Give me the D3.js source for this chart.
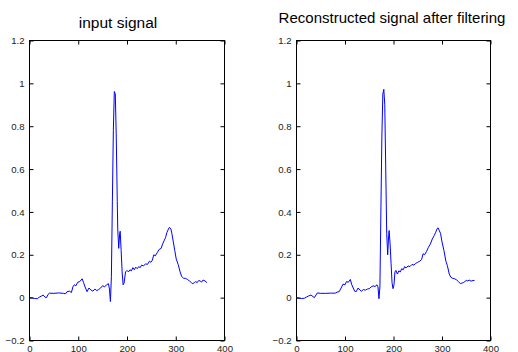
<!DOCTYPE html>
<html>
<head>
<meta charset="utf-8">
<script src="https://cdn.jsdelivr.net/npm/d3@7"></script>
<style>
    body { margin: 0; background: #fff; }
    svg { display: block; }
    .tick text { font-family: "Liberation Sans", Arial, sans-serif; font-size: 9.6px; fill: #222; }
    .title { font-family: "Liberation Sans", Arial, sans-serif; fill: #000; }
</style>
</head>
<body>
<svg id="chart" width="518" height="352"></svg>
<script>
// tick values shared by both panels
const xTicks = [0, 100, 200, 300, 400];
const yTicks = [-0.2, 0, 0.2, 0.4, 0.6, 0.8, 1, 1.2];

// [sample, amplitude]
const inputSignal = [
    [0, 0], [5, 0], [10, -0.004], [16, -0.005], [20, 0.002], [25, 0.008], [28, 0.012],
    [32, 0.002], [35, 0], [38, 0.015], [41, 0.021], [50, 0.02], [60, 0.022], [70, 0.02],
    [74, 0.018], [77, 0.028], [82, 0.03], [86, 0.024], [89, 0.05], [92, 0.06], [95, 0.055],
    [99, 0.072], [103, 0.075], [108, 0.088], [111, 0.07], [114, 0.05], [118, 0.028],
    [122, 0.045], [126, 0.036], [130, 0.03], [134, 0.04], [138, 0.033], [142, 0.038],
    [146, 0.045], [150, 0.056], [154, 0.05], [158, 0.06], [162, 0.065], [164, 0.04],
    [166, -0.018], [168, 0.1], [170, 0.45], [172, 0.78], [174, 0.962], [176, 0.95],
    [178, 0.75], [180, 0.45], [181, 0.32], [183, 0.23], [185, 0.3], [186, 0.31],
    [188, 0.22], [190, 0.12], [192, 0.06], [194, 0.068], [197, 0.12], [200, 0.127],
    [203, 0.12], [206, 0.13], [209, 0.125], [212, 0.14], [215, 0.13], [218, 0.142],
    [221, 0.135], [224, 0.145], [227, 0.14], [230, 0.152], [234, 0.148], [238, 0.158],
    [242, 0.155], [246, 0.17], [249, 0.165], [252, 0.175], [255, 0.2], [258, 0.195],
    [262, 0.21], [266, 0.225], [270, 0.23], [273, 0.25], [276, 0.265], [279, 0.28],
    [282, 0.305], [285, 0.32], [287, 0.328], [290, 0.32], [292, 0.3], [295, 0.26],
    [298, 0.22], [301, 0.18], [305, 0.155], [309, 0.12], [312, 0.1], [316, 0.09],
    [320, 0.09], [324, 0.085], [328, 0.078], [332, 0.07], [335, 0.065], [338, 0.07],
    [341, 0.075], [344, 0.07], [347, 0.08], [350, 0.078], [353, 0.072], [356, 0.082],
    [360, 0.078], [364, 0.07]
];

// [sample, amplitude]
const filteredSignal = [
    [0, 0], [5, -0.002], [10, -0.004], [16, -0.003], [20, 0.002], [25, 0.008], [30, 0.012],
    [34, 0.005], [37, 0], [40, 0.012], [43, 0.022], [50, 0.02], [60, 0.02], [70, 0.021],
    [80, 0.021], [84, 0.026], [88, 0.028], [92, 0.045], [96, 0.063], [100, 0.06],
    [103, 0.075], [107, 0.072], [111, 0.085], [114, 0.06], [117, 0.045], [120, 0.03],
    [123, 0.028], [127, 0.045], [131, 0.035], [134, 0.03], [138, 0.038], [142, 0.035],
    [146, 0.04], [150, 0.042], [154, 0.05], [158, 0.055], [162, 0.052], [166, 0.06],
    [168, 0.05], [170, -0.005], [172, 0.05], [174, 0.4], [176, 0.75], [178, 0.95],
    [180, 0.972], [182, 0.9], [184, 0.6], [186, 0.3], [188, 0.2], [190, 0.29],
    [191, 0.313], [193, 0.25], [195, 0.16], [197, 0.07], [199, 0.042], [201, 0.06],
    [203, 0.12], [205, 0.127], [208, 0.11], [211, 0.125], [214, 0.12], [217, 0.135],
    [220, 0.13], [223, 0.145], [226, 0.138], [230, 0.148], [234, 0.145], [238, 0.155],
    [242, 0.152], [246, 0.16], [250, 0.165], [254, 0.17], [258, 0.178], [261, 0.205],
    [264, 0.2], [268, 0.215], [272, 0.235], [276, 0.25], [280, 0.274], [284, 0.29],
    [287, 0.305], [290, 0.322], [292, 0.326], [294, 0.315], [297, 0.3], [300, 0.26],
    [304, 0.22], [308, 0.17], [311, 0.15], [315, 0.11], [318, 0.096], [322, 0.09],
    [326, 0.088], [330, 0.083], [334, 0.075], [338, 0.065], [341, 0.068], [344, 0.07],
    [347, 0.075], [350, 0.08], [353, 0.078], [356, 0.082], [360, 0.077], [364, 0.08],
    [367, 0.08]
];

const svg = d3.select('#chart');
svg.append('rect').attr('width', 518).attr('height', 352).attr('fill', '#fff');

const TOP = 40.5;
const BOTTOM = 340.5;

function drawPanel(data, left, right, title, titleX, titleY, titleSize) {
    const xScale = d3.scaleLinear().domain([0, 400]).range([left, right]);
    const yScale = d3.scaleLinear().domain([-0.2, 1.2]).range([BOTTOM, TOP]);
    const g = svg.append('g');

    // ticks point into the box, like matlab
    g.append('g')
        .attr('transform', `translate(0, ${BOTTOM})`)
        .call(d3.axisBottom(xScale).tickValues(xTicks).tickSizeInner(-4).tickSizeOuter(0).tickPadding(4.5));
    g.append('g')
        .attr('transform', `translate(0, ${TOP})`)
        .call(d3.axisTop(xScale).tickValues(xTicks).tickSizeInner(-4).tickSizeOuter(0).tickFormat(''));
    g.append('g')
        .attr('transform', `translate(${left}, 0)`)
        .call(d3.axisLeft(yScale).tickValues(yTicks).tickSizeInner(-4).tickSizeOuter(0).tickPadding(5)
            .tickFormat(d => d3.format('~g')(d)));
    g.append('g')
        .attr('transform', `translate(${right}, 0)`)
        .call(d3.axisRight(yScale).tickValues(yTicks).tickSizeInner(-4).tickSizeOuter(0).tickFormat(''));

    g.selectAll('.domain').remove();
    g.selectAll('.tick line').attr('stroke', '#000');

    g.append('rect')
        .attr('x', left).attr('y', TOP)
        .attr('width', right - left).attr('height', BOTTOM - TOP)
        .attr('fill', 'none').attr('stroke', '#000');

    const line = d3.line()
        .x(d => xScale(d[0]))
        .y(d => yScale(d[1]));

    g.append('path')
        .datum(data)
        .attr('d', line)
        .attr('fill', 'none')
        .attr('stroke', '#0000ff')
        .attr('stroke-width', 1);

    g.append('text')
        .attr('class', 'title')
        .attr('x', titleX).attr('y', titleY)
        .attr('text-anchor', 'middle')
        .style('font-size', titleSize + 'px')
        .text(title);
}

drawPanel(inputSignal, 29.5, 224.5, 'input signal', 118, 28, 15.5);
drawPanel(filteredSignal, 296.5, 490.5, 'Reconstructed signal after filtering', 392, 23, 15);
</script>
</body>
</html>
